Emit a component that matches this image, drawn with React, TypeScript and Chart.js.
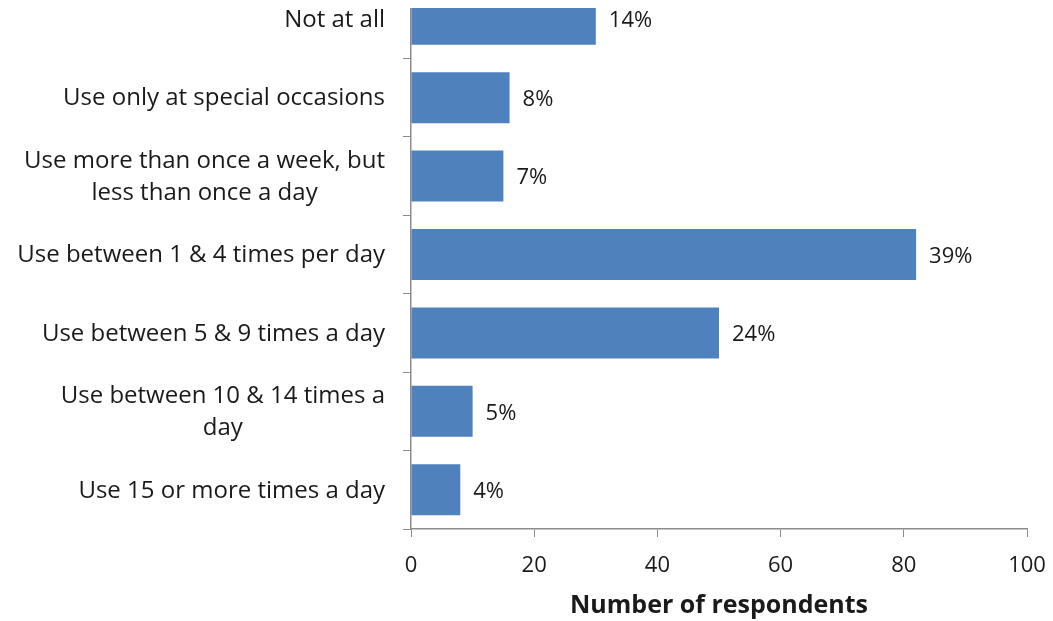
import React, { useEffect, useRef } from "react";
import { Chart, registerables } from "chart.js";

Chart.register(...registerables);

const categories: (string | string[])[] = [
  "Not at all",
  "Use only at special occasions",
  ["Use more than once a week, but", "less than once a day"],
  "Use between 1 & 4 times per day",
  "Use between 5 & 9 times a day",
  ["Use between 10 & 14 times a", "day"],
  "Use 15 or more times a day",
];
const respondents = [30, 16, 15, 82, 50, 10, 8];
const percentLabels = ["14%", "8%", "7%", "39%", "24%", "5%", "4%"];
const xMin = 0;
const xMax = 100;
const xStep = 20;
const xTitle = "Number of respondents";

const FONT = "'Open Sans', 'Noto Sans', sans-serif";
const AXIS_COLOR = "#8c8c8c";
const TEXT_COLOR = "#1a1a1a";

const labelPlugin = {
  id: "customLabels",
  afterDatasetsDraw(chart: any) {
    const ctx = chart.ctx;
    const meta = chart.getDatasetMeta(0);
    const yScale = chart.scales.y;
    const area = chart.chartArea;
    ctx.save();
    ctx.fillStyle = TEXT_COLOR;
    ctx.textBaseline = "middle";
    ctx.textAlign = "left";
    ctx.font = `22px ${FONT}`;
    meta.data.forEach((bar: any, i: number) => {
      ctx.fillText(percentLabels[i], bar.x + 13, bar.y + 2);
    });
    ctx.textAlign = "center";
    ctx.font = `24px ${FONT}`;
    const lineH = 32;
    categories.forEach((lab, i) => {
      const lines = Array.isArray(lab) ? lab : [lab];
      const maxW = Math.max(...lines.map((l) => ctx.measureText(l).width));
      const cx = area.left - 26 - maxW / 2;
      const cy = yScale.getPixelForValue(i) + 1;
      const startY = cy - ((lines.length - 1) * lineH) / 2;
      lines.forEach((l, j) => ctx.fillText(l, cx, startY + j * lineH));
    });
    ctx.restore();
  },
};

export default function App() {
  const ref = useRef<HTMLCanvasElement | null>(null);
  useEffect(() => {
    if (!ref.current) return;
    const chart = new Chart(ref.current, {
      type: "bar",
      data: {
        labels: categories.map((c) => (Array.isArray(c) ? c.join(" ") : c)),
        datasets: [
          {
            data: respondents,
            backgroundColor: "#4F81BD",
            borderWidth: 0,
            categoryPercentage: 1,
            barPercentage: 0.65,
          },
        ],
      },
      options: {
        indexAxis: "y",
        responsive: false,
        animation: false,
        layout: { padding: { left: 0, right: 26, top: 0, bottom: 0 } },
        plugins: {
          legend: { display: false },
          tooltip: { enabled: false },
        },
        scales: {
          y: {
            type: "category",
            afterFit: (s: any) => {
              s.width = 403;
            },
            ticks: { display: false },
            grid: {
              offset: true,
              drawOnChartArea: false,
              drawTicks: true,
              tickLength: 8,
              color: AXIS_COLOR,
            },
            border: { color: AXIS_COLOR, width: 1.5 },
          },
          x: {
            min: xMin,
            max: xMax,
            afterFit: (s: any) => {
              s.height = 92;
              s.paddingLeft = 0;
              s.paddingRight = 0;
            },
            ticks: {
              stepSize: xStep,
              color: TEXT_COLOR,
              font: { family: FONT, size: 22 },
              padding: 16,
              maxRotation: 0,
            },
            grid: {
              drawOnChartArea: false,
              drawTicks: true,
              tickLength: 8,
              color: AXIS_COLOR,
            },
            border: { color: AXIS_COLOR, width: 1.5 },
            title: {
              display: true,
              text: xTitle,
              color: TEXT_COLOR,
              font: { family: FONT, size: 25, weight: "bold" },
              padding: { top: 4, bottom: 0 },
            },
          },
        },
      },
      plugins: [labelPlugin],
    });
    return () => chart.destroy();
  }, []);
  return (
    <div style={{ marginTop: -28 }}>
      <canvas ref={ref} width={1045} height={641} style={{ display: "block" }} />
    </div>
  );
}
